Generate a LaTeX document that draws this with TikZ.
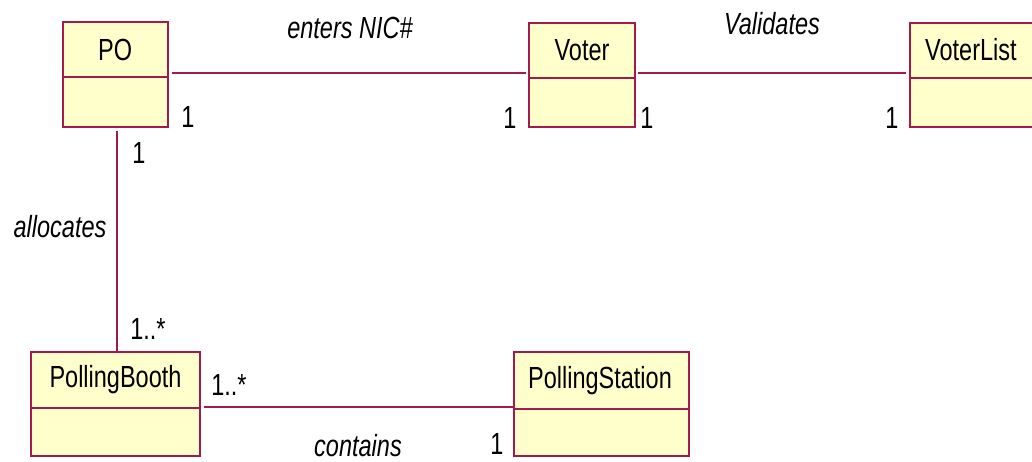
\documentclass[tikz,border=0pt]{standalone}
\usepackage{fontspec}
\usepackage{graphicx}
\setmainfont{Liberation Sans}
\usetikzlibrary{calc}
\definecolor{umlline}{RGB}{165,25,75}
\definecolor{umlfill}{RGB}{255,255,204}
% text in this diagram is drawn somewhat tall and narrow
\newcommand{\tall}[1]{\scalebox{1}[1.3]{#1}}
\begin{document}
\begin{tikzpicture}[x=1pt,y=-1pt,
  classbox/.style={draw=umlline, fill=umlfill, line width=2pt, rectangle, inner sep=0pt},
  assoc/.style={draw=umlline, line width=2.2pt},
  lbl/.style={inner sep=0pt, font=\fontsize{23.5}{28}\selectfont},
  role/.style={inner sep=0pt, font=\fontsize{23.5}{28}\selectfont\itshape}]
\useasboundingbox (0,0) rectangle (1032,462);
\clip (0,0) rectangle (1032,462);
\fill[white] (0,0) rectangle (1032,462);

% class boxes
\node[classbox, minimum width=105, minimum height=105] (po) at (115.2,74.8) {};
\node[classbox, minimum width=106, minimum height=104] (voter) at (582,74.7) {};
\node[classbox, minimum width=140, minimum height=104] (voterlist) at (980,74.7) {};
\node[classbox, minimum width=169, minimum height=104] (pb) at (115.5,403.7) {};
\node[classbox, minimum width=175, minimum height=103.5] (ps) at (601.5,404) {};

% compartment dividers
\draw[assoc] (po.west |- 0,76.7) -- (po.east |- 0,76.7);
\draw[assoc] (voter.west |- 0,77.7) -- (voter.east |- 0,77.7);
\draw[assoc] (voterlist.west |- 0,77.7) -- (voterlist.east |- 0,77.7);
\draw[assoc] (pb.west |- 0,408.3) -- (pb.east |- 0,408.3);
\draw[assoc] (ps.west |- 0,409) -- (ps.east |- 0,409);

% class names
\node[lbl] (po-name) at (115.2,49.5) {\tall{PO}};
\node[lbl] (voter-name) at (582,50) {\tall{Voter}};
\node[lbl, anchor=west] (voterlist-name) at (925,50) {\tall{VoterList}};
\node[lbl] (pb-name) at (115.5,380) {\tall{PollingBooth}};
\node[lbl] (ps-name) at (600,380.5) {\tall{PollingStation}};

% associations (kept exactly horizontal / vertical)
\draw[assoc] ($(po.east |- 0,73.3)+(3,0)$) -- ($(voter.west |- 0,73.3)+(-2,0)$);
\draw[assoc] ($(voter.east |- 0,73.3)+(2,0)$) -- ($(voterlist.west |- 0,73.3)+(-3,0)$);
\draw[assoc] ($(117.3,0 |- po.south)+(0,3)$) -- (117.3,0 |- pb.north);
\draw[assoc] ($(pb.east |- 0,406.7)+(3,0)$) -- (ps.west |- 0,406.7);

% association names
\node[role] (enters) at (350,28) {\tall{enters NIC\#}};
\node[role] (validates) at (772,24) {\tall{Validates}};
\node[role] (allocates) at (60,227) {\tall{allocates}};
\node[role] (contains) at (358,446) {\tall{contains}};

% multiplicities
\node[lbl] (m-po-v) at (188,117) {\tall{1}};
\node[lbl] (m-v-po) at (510,118) {\tall{1}};
\node[lbl] (m-v-vl) at (647,118) {\tall{1}};
\node[lbl] (m-vl-v) at (892,118) {\tall{1}};
\node[lbl] (m-po-pb) at (139,153) {\tall{1}};
\node[lbl] (m-pb-po) at (148,329) {\tall{1..*}};
\node[lbl] (m-pb-ps) at (229,385) {\tall{1..*}};
\node[lbl] (m-ps-pb) at (497,444) {\tall{1}};
\end{tikzpicture}
\end{document}
